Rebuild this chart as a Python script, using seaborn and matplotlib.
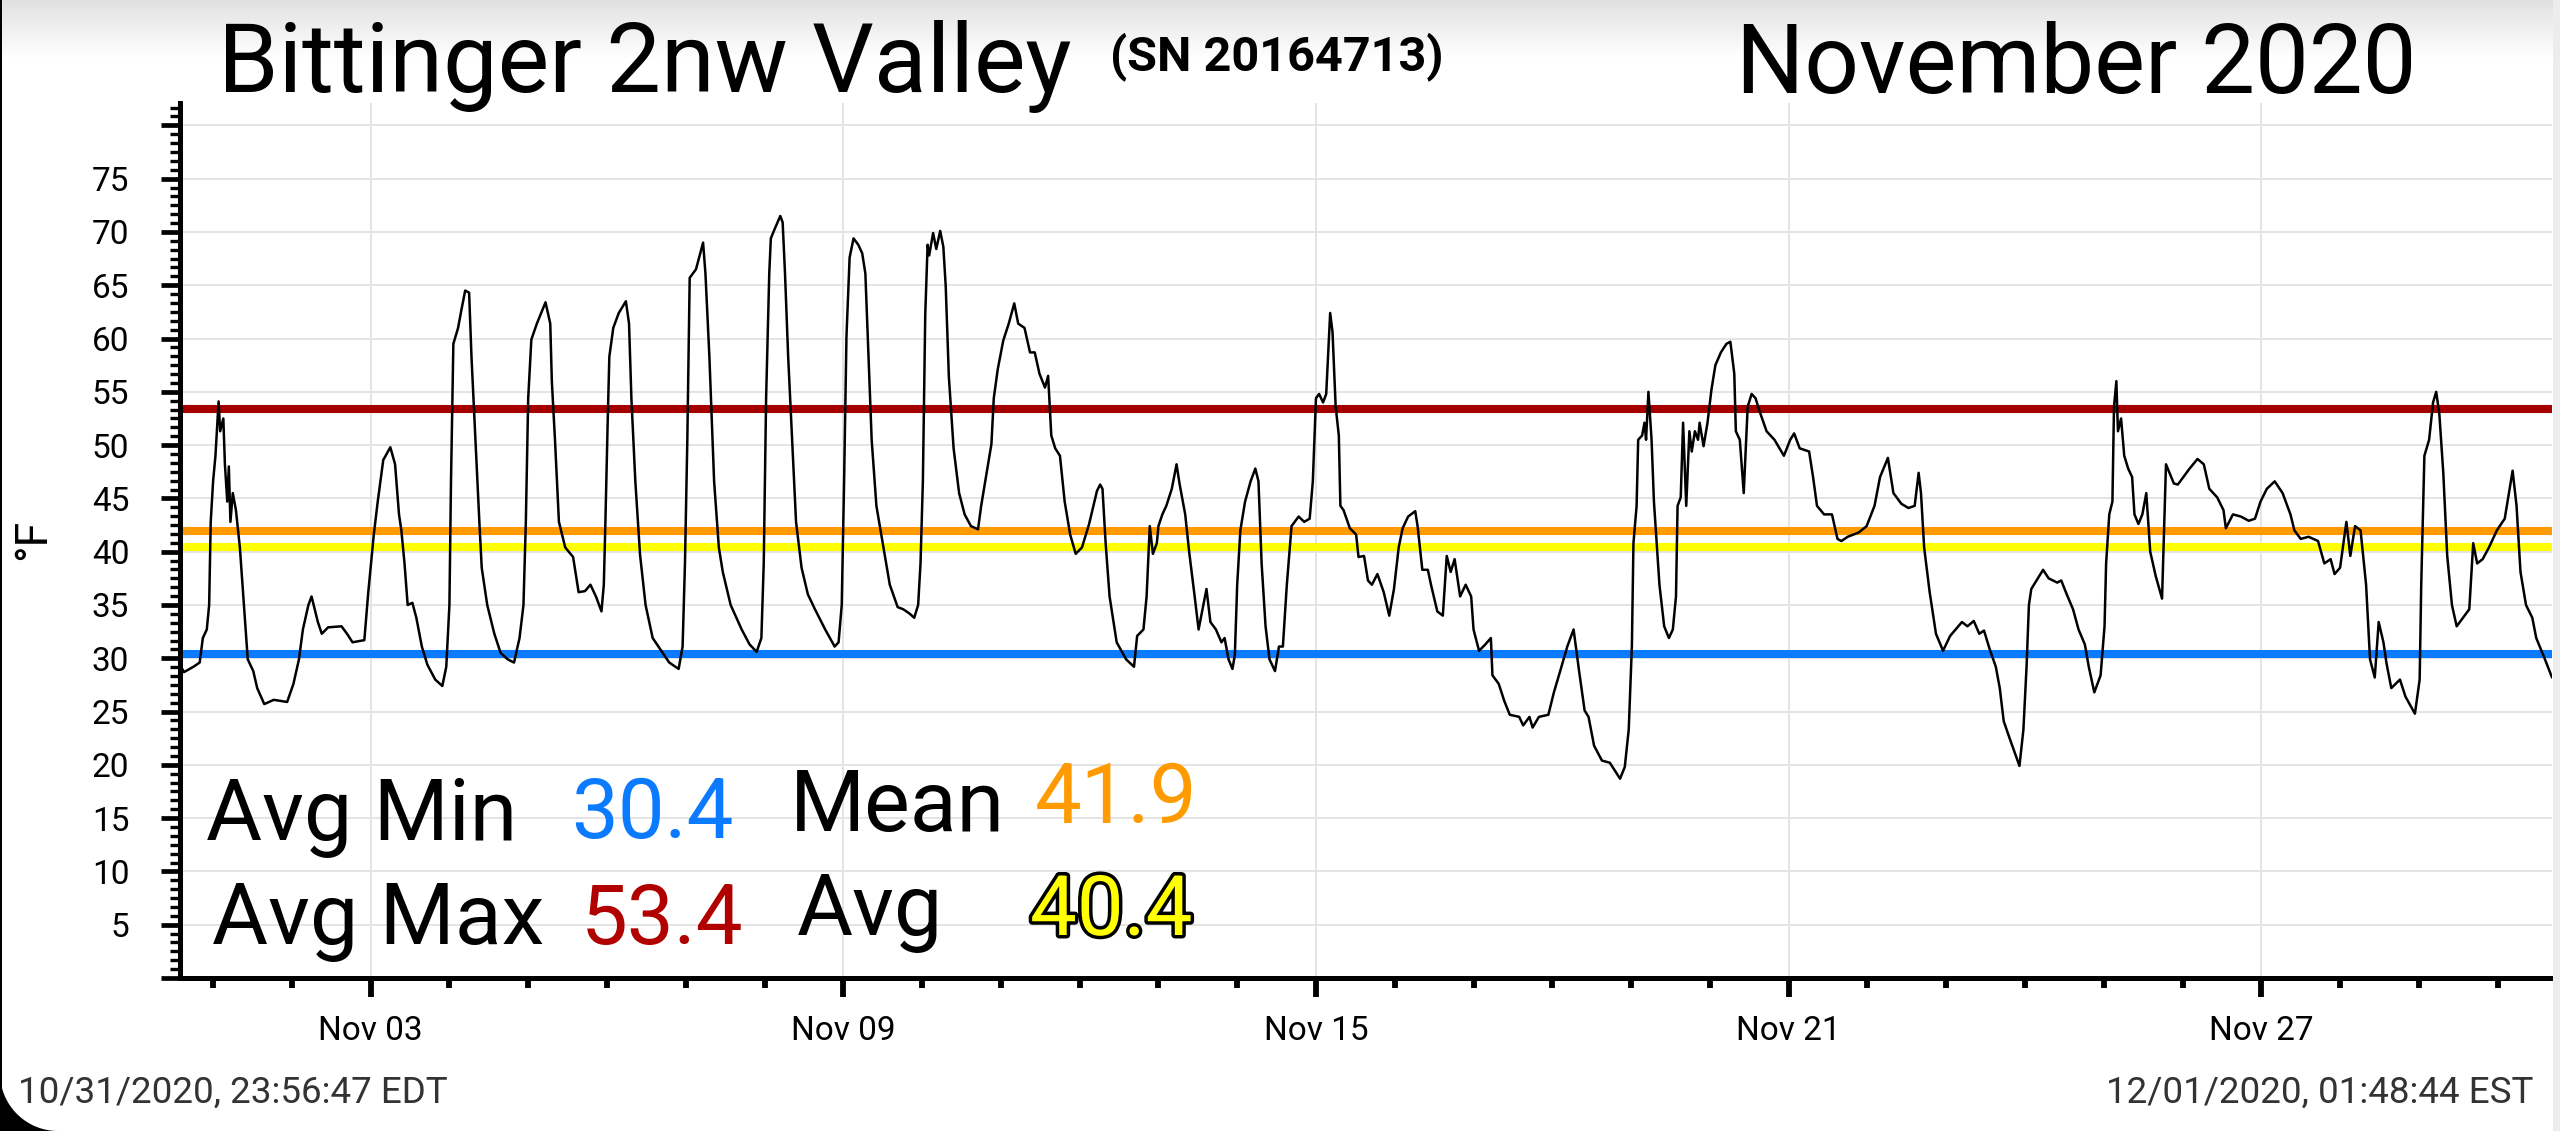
import numpy as np
import pandas as pd
import matplotlib
matplotlib.use("Agg")
import matplotlib.pyplot as plt
import matplotlib.dates as mdates
import matplotlib.patheffects as pe
from matplotlib.ticker import MultipleLocator, FuncFormatter
from matplotlib.patches import Polygon, Rectangle
import seaborn as sns

# fractional day of November (as placed against the "Nov dd" ticks) and temperature in F
day_of_month = [
    0.58, 0.63, 0.75, 0.83, 0.87, 0.92, 0.95, 0.97, 1.00, 1.03, 1.07, 1.09, 1.13, 1.15, 1.18, 1.20,
    1.22, 1.25, 1.29, 1.34, 1.41, 1.44, 1.51, 1.56, 1.65, 1.77, 1.94, 2.02, 2.09, 2.14, 2.21, 2.25,
    2.33, 2.38, 2.46, 2.63, 2.70, 2.77, 2.92, 2.97, 3.04, 3.09, 3.16, 3.25, 3.31, 3.36, 3.39, 3.43,
    3.47, 3.53, 3.58, 3.65, 3.72, 3.82, 3.91, 3.96, 4.00, 4.02, 4.05, 4.11, 4.15, 4.20, 4.25, 4.28,
    4.33, 4.38, 4.41, 4.48, 4.57, 4.65, 4.74, 4.82, 4.89, 4.94, 4.97, 5.00, 5.04, 5.11, 5.22, 5.28,
    5.30, 5.34, 5.39, 5.47, 5.57, 5.64, 5.72, 5.79, 5.86, 5.93, 5.96, 5.98, 6.01, 6.03, 6.08, 6.15,
    6.24, 6.28, 6.31, 6.36, 6.42, 6.49, 6.58, 6.69, 6.79, 6.91, 6.96, 6.99, 7.02, 7.05, 7.13, 7.22,
    7.25, 7.30, 7.36, 7.42, 7.47, 7.57, 7.71, 7.81, 7.90,
    7.96, 7.99, 8.02, 8.06, 8.08, 8.13, 8.20, 8.23, 8.26, 8.30, 8.35, 8.40, 8.47, 8.55, 8.64, 8.77,
    8.89, 8.94, 8.98, 9.01, 9.04, 9.08, 9.13, 9.19, 9.24, 9.28, 9.32, 9.36, 9.42, 9.50, 9.59, 9.69,
    9.76, 9.84, 9.90, 9.95, 9.98, 10.01, 10.04, 10.07, 10.09, 10.14, 10.18, 10.23, 10.27, 10.30,
    10.34, 10.40, 10.47, 10.54, 10.62, 10.71, 10.75, 10.82, 10.88, 10.91, 10.96, 11.03, 11.10,
    11.17, 11.22, 11.30, 11.37, 11.43, 11.49, 11.56, 11.60, 11.64, 11.69, 11.75, 11.81, 11.88,
    11.95, 12.03, 12.12, 12.22, 12.26, 12.29, 12.33, 12.38, 12.47, 12.59, 12.69, 12.73, 12.81,
    12.85, 12.89, 12.93, 12.98, 13.00, 13.05, 13.10, 13.17, 13.23, 13.27, 13.34, 13.39, 13.46,
    13.51, 13.56, 13.61, 13.66, 13.73, 13.80, 13.84, 13.89, 13.94, 13.97, 14.00, 14.04, 14.10,
    14.17, 14.23, 14.27, 14.31, 14.36, 14.41, 14.48, 14.53, 14.58, 14.63, 14.69, 14.78, 14.85,
    14.92, 14.96, 15.00, 15.04, 15.09, 15.13, 15.18, 15.21, 15.25, 15.29, 15.31, 15.35, 15.43,
    15.51,
    15.54, 15.61, 15.66, 15.71, 15.78, 15.86, 15.93, 15.99, 16.05, 16.10, 16.17, 16.26, 16.29,
    16.35, 16.42, 16.46, 16.54, 16.61, 16.66, 16.71, 16.76, 16.83, 16.90, 16.97, 17.00, 17.07,
    17.15, 17.22, 17.24, 17.32, 17.39, 17.46, 17.58, 17.63, 17.71, 17.75, 17.83, 17.95, 18.02,
    18.10, 18.19, 18.27, 18.34, 18.41, 18.46, 18.53, 18.63, 18.73, 18.80, 18.86, 18.92, 18.97,
    19.01, 19.03, 19.07, 19.09, 19.14, 19.17, 19.19, 19.22, 19.26, 19.29, 19.36, 19.42, 19.48,
    19.53, 19.57, 19.59, 19.63, 19.66, 19.70, 19.74, 19.77, 19.81, 19.85, 19.87, 19.92, 19.97,
    20.02, 20.07, 20.14, 20.21, 20.26, 20.31, 20.33, 20.38, 20.43, 20.48, 20.53, 20.58, 20.63,
    20.72, 20.82, 20.94, 21.02, 21.07, 21.14, 21.26, 21.31, 21.36, 21.45, 21.55, 21.62, 21.67,
    21.75, 21.89, 21.99, 22.09, 22.16, 22.26, 22.33, 22.43, 22.52, 22.60, 22.65, 22.68, 22.72,
    22.79, 22.87, 22.96,
    23.05, 23.12, 23.20, 23.27, 23.35, 23.42, 23.48, 23.55, 23.63, 23.68, 23.73, 23.80, 23.93,
    23.98, 24.02, 24.05, 24.08, 24.13, 24.23, 24.30, 24.41, 24.46, 24.53, 24.61, 24.68, 24.76,
    24.81, 24.88, 24.96, 25.01, 25.03, 25.07, 25.11, 25.13, 25.16, 25.18, 25.22, 25.26, 25.31,
    25.36, 25.39, 25.44, 25.49, 25.54, 25.59, 25.66, 25.74, 25.79, 25.89, 25.94, 26.01, 26.09,
    26.19, 26.27, 26.34, 26.44, 26.52, 26.55, 26.64, 26.74, 26.84, 26.92, 26.99, 27.07, 27.17,
    27.27, 27.37, 27.42, 27.50, 27.60, 27.72, 27.80, 27.88, 27.93, 28.00, 28.08, 28.13, 28.19,
    28.26, 28.33, 28.38, 28.44, 28.49, 28.55, 28.59, 28.65, 28.76, 28.83, 28.95, 29.01, 29.03,
    29.07, 29.13, 29.18, 29.22, 29.26, 29.31, 29.36, 29.42, 29.48, 29.56, 29.64, 29.69, 29.74,
    29.81, 29.89, 29.99, 30.09, 30.19, 30.24, 30.29, 30.36, 30.44, 30.49, 30.59, 30.69,
]
temp_f = [
    29.4, 28.7, 29.2, 29.6, 31.9, 32.7, 35.0, 42.8, 46.6, 49.0, 54.1, 51.3, 52.5, 48.2, 44.7, 48.0,
    42.8, 45.5, 43.9, 40.4, 33.0, 29.9, 28.8, 27.2, 25.7, 26.1, 25.9, 27.6, 29.9, 32.7, 35.0, 35.8,
    33.4, 32.3, 32.9, 33.0, 32.3, 31.5, 31.7, 36.2, 41.6, 44.7, 48.6, 49.8, 48.2, 43.5, 42.0, 38.9,
    35.0, 35.2, 33.8, 31.1, 29.4, 28.0, 27.4, 29.2, 35.0, 46.6, 59.5, 61.0, 62.6, 64.5, 64.3, 58.3,
    50.5, 42.8, 38.5, 35.0, 32.3, 30.5, 29.9, 29.6, 31.9, 35.0, 42.8, 54.4, 59.9, 61.4, 63.4, 61.4,
    56.0, 50.5, 42.8, 40.4, 39.5, 36.2, 36.3, 36.9, 35.8, 34.4, 36.9, 42.8, 52.5, 58.3, 61.0, 62.4,
    63.5, 61.4, 54.4, 46.6, 39.7, 35.0, 31.9, 30.7, 29.6, 29.0, 31.1, 38.9, 50.5, 65.7, 66.5, 69.0,
    66.1, 58.3, 46.6, 40.4, 38.1, 35.0, 32.7, 31.3, 30.6,
    31.9, 38.9, 54.4, 66.1, 69.4, 70.3, 71.5, 70.9, 66.1, 58.3, 50.5, 42.8, 38.5, 36.0, 34.6, 32.7,
    31.1, 31.5, 35.0, 46.6, 60.2, 67.6, 69.4, 68.8, 68.0, 66.1, 58.3, 50.5, 44.3, 40.8, 36.9, 34.8,
    34.6, 34.2, 33.8, 35.0, 38.9, 46.6, 62.2, 68.8, 67.8, 69.9, 68.4, 70.1, 68.6, 64.9,
    56.4, 49.7, 45.5, 43.5, 42.4, 42.1, 44.3, 47.4, 50.1, 54.4, 57.1, 59.8, 61.4,
    63.3, 61.4, 61.0, 58.7, 58.7, 56.7, 55.4, 56.5, 50.9, 49.7, 49.0, 44.7, 41.6,
    39.8, 40.4, 42.6, 45.7, 46.3, 45.9, 40.8, 35.8, 31.5, 29.9, 29.2, 32.1, 32.7,
    35.8, 42.4, 39.8, 40.8, 42.4, 43.5, 44.3, 45.9, 48.2, 46.3, 43.5, 40.0, 35.8,
    32.7, 34.6, 36.5, 33.4, 32.7, 31.5, 31.9, 29.9, 29.0, 30.3, 36.9, 42.0, 44.7,
    46.6, 47.8, 46.6, 38.9, 33.0, 29.9, 28.8, 31.1, 31.1, 36.9, 42.4, 43.3, 42.8,
    43.1, 46.6, 54.4, 54.8, 54.0, 54.8, 62.4, 60.6, 53.6, 50.9, 44.3, 43.9, 42.2,
    41.6,
    39.5, 39.6, 37.3, 36.9, 37.9, 36.2, 34.0, 36.5, 40.4, 42.2, 43.3, 43.8, 42.4,
    38.3, 38.3, 36.9, 34.4, 34.0, 39.6, 38.1, 39.3, 35.8, 36.9, 35.8, 32.7, 30.7,
    31.3, 31.9, 28.4, 27.6, 26.0, 24.7, 24.5, 23.7, 24.5, 23.5, 24.5, 24.7, 26.8,
    28.8, 31.1, 32.7, 28.8, 25.1, 24.5, 21.8, 20.4, 20.2, 19.4, 18.7, 19.8, 23.3,
    31.1, 40.8, 44.3, 50.5, 50.9, 52.1, 50.5, 55.0, 50.5, 44.7, 36.9, 33.0, 31.9,
    32.7, 35.8, 44.3, 45.1, 52.1, 44.3, 51.3, 49.4, 51.3, 50.5, 52.1, 49.9, 52.1,
    55.2, 57.5, 58.7, 59.5, 59.7, 56.7, 51.3, 50.5, 45.5, 53.6, 54.8, 54.4, 53.2,
    51.3, 50.5, 49.0, 50.5, 51.1, 49.7, 49.4, 47.0, 44.3, 43.5, 43.5, 41.2, 41.0,
    41.4, 41.8, 42.4, 44.3, 47.0, 48.8, 45.5, 44.5, 44.1, 44.3, 47.4, 45.5, 40.4,
    36.2, 32.3, 30.7,
    32.1, 32.7, 33.4, 33.0, 33.5, 32.3, 32.6, 30.9, 29.2, 27.2, 24.1, 22.6, 19.9,
    23.3, 29.2, 35.0, 36.5, 37.1, 38.3, 37.5, 37.1, 37.3, 36.0, 34.6, 32.7, 31.3,
    29.2, 26.8, 28.4, 33.0, 38.9, 43.5, 44.7, 53.6, 56.0, 51.3, 52.5, 49.0, 47.8,
    47.0, 43.5, 42.6, 43.5, 45.5, 40.0, 37.7, 35.6, 48.2, 46.4, 46.3, 47.0, 47.8,
    48.7, 48.2, 45.9, 45.1, 43.9, 42.2, 43.5, 43.3, 42.9, 43.1, 44.7, 45.9, 46.6,
    45.5, 43.5, 42.0, 41.2, 41.4, 41.0, 38.9, 39.3, 37.9, 38.5, 42.8, 39.6, 42.4,
    42.0, 36.9, 29.9, 28.2, 33.4, 31.5, 29.5, 27.2, 28.0, 26.4, 24.8, 28.0, 36.9,
    49.0, 50.5, 54.0, 55.0, 52.9, 47.4, 39.6, 35.0, 33.0, 33.8, 34.6, 40.8, 38.9,
    39.3, 40.4, 42.0, 43.1, 47.6, 44.3, 38.1, 35.0, 33.8, 31.9, 30.1, 28.2,
]

station = "Bittinger 2nw Valley"
serial = "(SN 20164713)"
month_label = "November 2020"
start_stamp = "10/31/2020, 23:56:47 EDT"
end_stamp = "12/01/2020, 01:48:44 EST"
major_days = [3, 9, 15, 21, 27]

stat_names = ["Avg Min", "Avg Max", "Mean", "Avg"]
stat_values = [30.4, 53.4, 41.9, 40.4]
line_colors = ["#0a7aff", "#a50000", "#ff9a00", "#ffff00"]
text_colors = ["#0a7aff", "#b00000", "#ff9a00", "#ffff00"]

sns.set_style("white")
plt.rcParams["font.family"] = ["Roboto", "DejaVu Sans"]
plt.rcParams["text.color"] = "black"
plt.rcParams["xtick.color"] = "black"
plt.rcParams["ytick.color"] = "black"

W, H = 2560, 1131


def fx(px):
    return px / W


def fy(py):
    return 1 - py / H


fig = plt.figure(figsize=(W / 100, H / 100), dpi=100)

# light grey strip at the top of the screenshot
bg = fig.add_axes([0, fy(60), 1, 60 / H], zorder=-5)
bg.imshow(np.linspace(0.88, 1.0, 60).reshape(-1, 1), cmap="gray", vmin=0, vmax=1,
          aspect="auto", extent=[0, 1, 0, 1])
bg.axis("off")

ax = fig.add_axes([fx(180), fy(978), fx(2552 - 180), (978 - 103) / H])

times = pd.Timestamp("2020-11-01") + pd.to_timedelta(np.array(day_of_month) - 1, unit="D")
df = pd.DataFrame({"time": times, "temp": temp_f})

for val, col in zip(stat_values, line_colors):
    ax.axhline(val, color=col, lw=5.8, zorder=2)

sns.lineplot(data=df, x="time", y="temp", color="black", lw=1.8, ax=ax, zorder=3)

ax.set_xlim(df["time"].iloc[0], df["time"].iloc[-1])
ax.set_ylim(0, 82.1)
ax.set_xlabel("")
ax.set_ylabel("")

ax.xaxis.set_major_locator(mdates.DayLocator(bymonthday=major_days))
ax.xaxis.set_minor_locator(mdates.DayLocator())
ax.xaxis.set_major_formatter(mdates.DateFormatter("%b %d"))
ax.yaxis.set_major_locator(MultipleLocator(5))
ax.yaxis.set_minor_locator(MultipleLocator(5 / 6))
ax.yaxis.set_major_formatter(FuncFormatter(lambda v, p: "" if v < 1 or v > 77 else f"{v:.0f}"))

ax.set_axisbelow(True)
ax.grid(True, which="major", color="#e4e4e4", lw=1.4)
sns.despine(ax=ax)
for side in ["left", "bottom"]:
    ax.spines[side].set_linewidth(3.6)
    ax.spines[side].set_color("black")

ax.tick_params(axis="y", which="major", length=13.5, width=3.4, pad=23, labelsize=24,
               color="black", labelcolor="black", left=True)
ax.tick_params(axis="y", which="minor", length=7.5, width=2.4, color="black", left=True)
ax.tick_params(axis="x", which="major", length=13.5, width=4.2, pad=13, labelsize=24,
               color="black", labelcolor="black", bottom=True)
ax.tick_params(axis="x", which="minor", length=7.2, width=4.2, color="black", bottom=True)

fig.text(fx(33), fy(539), "°F", rotation=90, fontsize=32, ha="center", va="center")

# header
fig.text(fx(218), fy(92), station, fontsize=70, va="baseline")
fig.text(fx(1110), fy(70), serial, fontsize=35, weight="bold", va="baseline")
fig.text(fx(2417), fy(93), month_label, fontsize=69, ha="right", va="baseline")

# stats block
name_fs, value_fs = 62, 60
fig.text(fx(206), fy(840), stat_names[0], fontsize=name_fs, va="baseline")
fig.text(fx(571), fy(838), f"{stat_values[0]:.1f}", fontsize=value_fs, color=text_colors[0], va="baseline")
fig.text(fx(212), fy(944), stat_names[1], fontsize=name_fs, va="baseline")
fig.text(fx(581), fy(944), f"{stat_values[1]:.1f}", fontsize=value_fs, color=text_colors[1], va="baseline")
fig.text(fx(790), fy(831), stat_names[2], fontsize=name_fs, va="baseline")
fig.text(fx(1035), fy(823), f"{stat_values[2]:.1f}", fontsize=value_fs, color=text_colors[2], va="baseline")
fig.text(fx(797), fy(935), stat_names[3], fontsize=name_fs, va="baseline")
fig.text(fx(1030), fy(935), f"{stat_values[3]:.1f}", fontsize=value_fs, color=text_colors[3], va="baseline",
         path_effects=[pe.withStroke(linewidth=5, foreground="black")])

# footer timestamps
fig.text(fx(18), fy(1103), start_stamp, fontsize=26.5, color="#333333", va="baseline")
fig.text(fx(2533), fy(1103), end_stamp, fontsize=26.5, color="#333333", ha="right", va="baseline")

# screenshot frame: left border, rounded bottom-left corner, right edge
fig.add_artist(Rectangle((0, 0), fx(2), 1, transform=fig.transFigure, color="black", lw=0))
R = 58
theta = np.linspace(0, np.pi / 2, 30)
arc = [(fx(R - R * np.cos(t)), (R - R * np.sin(t)) / H) for t in theta]
fig.add_artist(Polygon([(0, 0)] + arc, closed=True, transform=fig.transFigure,
                       color="black", lw=0))
fig.add_artist(Rectangle((fx(2553), 0), fx(7), 1, transform=fig.transFigure,
                         color="#ececec", lw=0))

fig.savefig("out.png", dpi=100)
